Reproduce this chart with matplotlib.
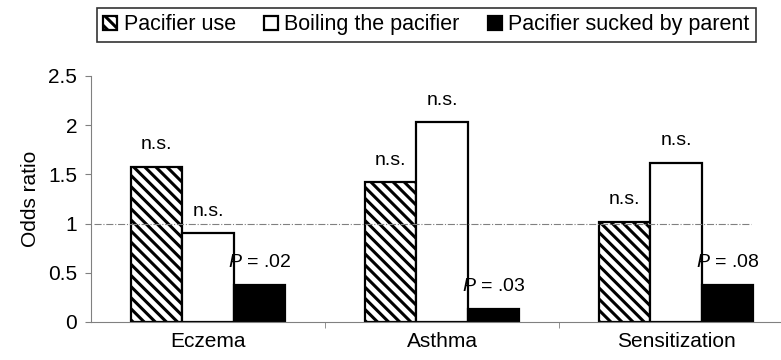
import numpy as np
import matplotlib.pyplot as plt

plt.rcParams['font.family'] = ['Liberation Sans', 'DejaVu Sans']
plt.rcParams['mathtext.fontset'] = 'custom'
plt.rcParams['mathtext.it'] = 'Liberation Sans:italic'
plt.rcParams['mathtext.rm'] = 'Liberation Sans'
plt.rcParams['hatch.linewidth'] = 2.2

categories = ["Eczema", "Asthma", "Sensitization"]
series = ["Pacifier use", "Boiling the pacifier", "Pacifier sucked by parent"]
pacifier_use = [1.58, 1.42, 1.02]
boiling = [0.90, 2.03, 1.62]
sucked = [0.38, 0.13, 0.38]
labels = [["n.s.", "n.s.", "n.s."],
          ["n.s.", "n.s.", "n.s."],
          ["$P$ = .02", "$P$ = .03", "$P$ = .08"]]

fig = plt.figure(figsize=(7.81, 3.6), dpi=100)
ax = fig.add_axes([0.1165, 0.1056, 0.899, 0.6833])

x = np.arange(len(categories))
w = 0.22
styles = [dict(facecolor="white", hatch="\\\\\\", edgecolor="black"),
          dict(facecolor="white", edgecolor="black"),
          dict(facecolor="black", edgecolor="black")]
data = [pacifier_use, boiling, sucked]
handles = []
for i, (vals, st) in enumerate(zip(data, styles)):
    b = ax.bar(x + (i - 1) * w, vals, w, linewidth=1.6, label=series[i], **st)
    handles.append(b)
    for j, v in enumerate(vals):
        ax.annotate(labels[i][j], (x[j] + (i - 1) * w, v), xytext=(0, 16),
                    textcoords="offset points", ha="center", va="center", fontsize=14)

ax.axhline(1, xmin=0.005, xmax=0.94, color="gray", linestyle="-.", linewidth=0.8)

ax.set_xlim(-0.5, 2.5)
ax.set_ylim(0, 2.5)
ax.set_yticks([0, 0.5, 1, 1.5, 2, 2.5])
ax.set_yticklabels(["0", "0.5", "1", "1.5", "2", "2.5"], fontsize=15)
ax.set_xticks(x)
ax.set_xticklabels(categories, fontsize=15)
ax.tick_params(axis="x", length=0, pad=7)
ax.set_xticks([0.5, 1.5], minor=True)
ax.tick_params(axis="x", which="minor", length=4, color="gray")
ax.tick_params(axis="y", length=4, color="gray", pad=6)
ax.set_ylabel("Odds ratio", fontsize=15, labelpad=6)
for s in ["top", "right"]:
    ax.spines[s].set_visible(False)
ax.spines["left"].set_color("gray")
ax.spines["bottom"].set_color("gray")

leg = fig.legend(handles=handles, loc="upper left", bbox_to_anchor=(0.124, 0.978),
                 borderaxespad=0, ncol=3, fontsize=15.5, frameon=True, fancybox=False,
                 edgecolor="black", handlelength=0.65, handleheight=0.65,
                 handletextpad=0.3, columnspacing=1.3, borderpad=0.3)
leg.get_frame().set_linewidth(1.2)

fig.savefig("out.png", dpi=100)
